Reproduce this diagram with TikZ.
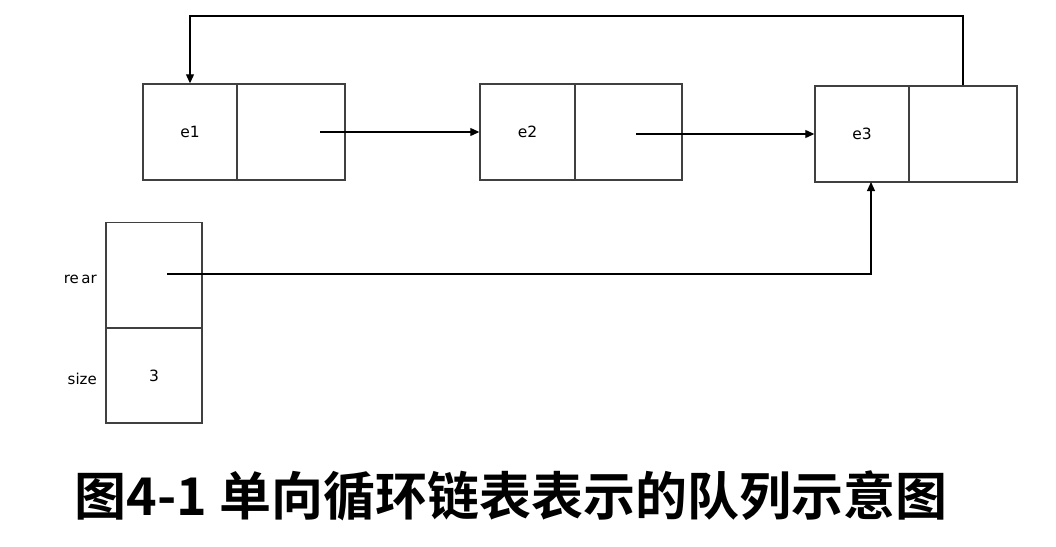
\documentclass[tikz,border=0pt]{standalone}
\usepackage{fontspec}
\setmainfont{DejaVu Sans}
\newfontfamily\cjk{Noto Sans CJK SC Bold}
\usetikzlibrary{arrows.meta}
\definecolor{ln}{HTML}{404040}
\begin{document}
\begin{tikzpicture}[x=1pt,y=-1pt,
  cell/.style={draw=ln,line width=1.4pt,minimum height=96pt,inner sep=0pt,font=\fontsize{15.5}{16}\selectfont},
  lab/.style={font=\fontsize{15}{16}\selectfont,inner sep=0pt},
  arr/.style={draw=black,line width=1.1pt,-{Triangle[length=9pt,width=8pt]}},
  wire/.style={draw=ln,line width=1.4pt}]
\useasboundingbox[fill=white] (0,0) rectangle (1056,546);
% list nodes
\node[cell,minimum width=94pt] (e1d) at (190,132) {e1};
\node[cell,minimum width=108pt] (e1p) at (291,132) {};
\node[cell,minimum width=95pt] (e2d) at (527.5,132) {e2};
\node[cell,minimum width=107pt] (e2p) at (628.5,132) {};
\node[cell,minimum width=94pt] (e3d) at (862,134) {e3};
\node[cell,minimum width=108pt] (e3p) at (963,134) {};
% queue header
\node[cell,minimum width=96pt,minimum height=106pt] (rear) at (154,275.5) {};
\node[cell,minimum width=96pt,minimum height=95pt] (size) at (154,375.5) {3};
\node[lab,anchor=east] (rearl) at (97,279) {re\,ar};
\node[lab,anchor=east] (sizel) at (97,379) {size};
% connectors
\coordinate (p1) at (320,132);
\coordinate (p2) at (636,134);
\coordinate (pr) at (167,274);
\coordinate (top) at (190,16);
\coordinate (e3in) at (871,182);
\draw[arr] (p1) -- (e2d.west);
\draw[arr] (p2) -- (e3d.west);
\draw[arr] (pr) -| (e3in);
\draw[arr] (e3p.north) |- (top) -- (e1d.north);
% title
\node[font=\cjk\fontsize{52}{54}\selectfont,inner sep=0pt] (title) at (511,496) {图4-1 单向循环链表表示的队列示意图};
\end{tikzpicture}
\end{document}
